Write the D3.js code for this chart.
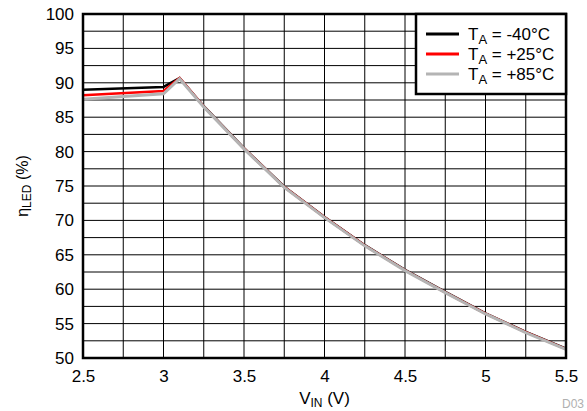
<!DOCTYPE html>
<html>
<head>
<meta charset="utf-8">
<script src="https://cdn.jsdelivr.net/npm/d3@7"></script>
<style>
  body { margin: 0; background: #fff; }
  svg text { font-family: "Liberation Sans", Arial, Helvetica, sans-serif; }
</style>
</head>
<body>
<div id="chart"></div>
<script>
// input voltage (V)
const vin = [2.5, 3.0, 3.1, 3.25, 3.5, 3.75, 4.0, 4.25, 4.5, 4.75, 5.0, 5.25, 5.5];

// efficiency (%) per ambient temperature
const effM40 = [89.0, 89.4, 90.7, 86.6, 80.5, 74.9, 70.5, 66.4, 62.8, 59.6, 56.5, 53.8, 51.35];
const effP25 = [88.2, 88.8, 90.7, 86.55, 80.45, 74.85, 70.45, 66.35, 62.75, 59.55, 56.45, 53.75, 51.3];
const effP85 = [87.6, 88.4, 90.6, 86.5, 80.4, 74.8, 70.4, 66.3, 62.7, 59.5, 56.4, 53.7, 51.25];

const seriesNames = ["-40°C", "+25°C", "+85°C"];
const seriesColors = ["#000000", "#ff0000", "#b4b4b4"];

const xTicks = [2.5, 3, 3.5, 4, 4.5, 5, 5.5];
const yTicks = [50, 55, 60, 65, 70, 75, 80, 85, 90, 95, 100];

const MARGIN = { TOP: 14, BOTTOM: 53, LEFT: 83, RIGHT: 21 };
const W = 587, H = 411;
const WIDTH = W - MARGIN.LEFT - MARGIN.RIGHT;
const HEIGHT = H - MARGIN.TOP - MARGIN.BOTTOM;

const svg = d3.select("#chart").append("svg")
  .attr("width", W)
  .attr("height", H);

const g = svg.append("g")
  .attr("transform", `translate(${MARGIN.LEFT}, ${MARGIN.TOP})`);

const x = d3.scaleLinear().domain([2.5, 5.5]).range([0, WIDTH]);
const y = d3.scaleLinear().domain([50, 100]).range([HEIGHT, 0]);

// grid
g.append("g")
  .selectAll("line")
  .data(d3.range(2.5, 5.5001, 0.25))
  .enter().append("line")
    .attr("x1", d => x(d)).attr("x2", d => x(d))
    .attr("y1", 0).attr("y2", HEIGHT)
    .attr("stroke", "#000").attr("stroke-width", 1);

g.append("g")
  .selectAll("line")
  .data(d3.range(50, 100.001, 2.5))
  .enter().append("line")
    .attr("x1", 0).attr("x2", WIDTH)
    .attr("y1", d => y(d)).attr("y2", d => y(d))
    .attr("stroke", "#000").attr("stroke-width", 1);

// axes (labels only)
const xAxis = g.append("g")
  .attr("transform", `translate(0, ${HEIGHT})`)
  .call(d3.axisBottom(x).tickValues(xTicks).tickSize(0).tickPadding(12).tickFormat(d3.format("")));
const yAxis = g.append("g")
  .call(d3.axisLeft(y).tickValues(yTicks).tickSize(0).tickPadding(9));
[xAxis, yAxis].forEach(a => {
  a.select(".domain").remove();
  a.selectAll("text").attr("font-size", 17).attr("fill", "#000")
    .style("font-family", "'Liberation Sans', Arial, sans-serif");
});

// data lines
const rows = [effM40, effP25, effP85];
const line = d3.line()
  .x((d, i) => x(vin[i]))
  .y(d => y(d));

g.append("g")
  .selectAll("path")
  .data(rows)
  .enter().append("path")
    .attr("d", line)
    .attr("fill", "none")
    .attr("stroke", (d, i) => seriesColors[i])
    .attr("stroke-width", (d, i) => i === 2 ? 3 : 2.5)
    .attr("stroke-linejoin", "miter");

// frame
g.append("rect")
  .attr("width", WIDTH).attr("height", HEIGHT)
  .attr("fill", "none").attr("stroke", "#000").attr("stroke-width", 2.5);

// legend
const lg = g.append("g").attr("transform", `translate(${WIDTH - 150}, 0)`);
lg.append("rect")
  .attr("width", 150).attr("height", 80)
  .attr("fill", "#fff").attr("stroke", "#000").attr("stroke-width", 2.5);

seriesNames.forEach((name, i) => {
  const ly = 20 + i * 20;
  lg.append("line")
    .attr("x1", 10).attr("x2", 43)
    .attr("y1", ly).attr("y2", ly)
    .attr("stroke", seriesColors[i]).attr("stroke-width", 3);
  const t = lg.append("text")
    .attr("x", 52).attr("y", ly + 6)
    .attr("font-size", 17).attr("fill", "#000");
  t.append("tspan").text("T");
  t.append("tspan").attr("font-size", 13).attr("dy", 4).text("A");
  t.append("tspan").attr("dy", -4).text(" = " + name);
});

// axis titles
const xt = svg.append("text")
  .attr("x", MARGIN.LEFT + WIDTH / 2)
  .attr("y", 404)
  .attr("text-anchor", "middle")
  .attr("font-size", 17);
xt.append("tspan").text("V");
xt.append("tspan").attr("font-size", 12).attr("dy", 3).text("IN");
xt.append("tspan").attr("dy", -3).text(" (V)");

const yt = svg.append("text")
  .attr("transform", `translate(28, ${MARGIN.TOP + HEIGHT / 2}) rotate(-90)`)
  .attr("text-anchor", "middle")
  .attr("font-size", 16);
yt.append("tspan").text("η");
yt.append("tspan").attr("font-size", 12).attr("dy", 3).text("LED");
yt.append("tspan").attr("dy", -3).text(" (%)");

svg.append("text")
  .attr("x", 584).attr("y", 408)
  .attr("text-anchor", "end")
  .attr("font-size", 12)
  .attr("fill", "#b0b0b0")
  .text("D03");
</script>
</body>
</html>
